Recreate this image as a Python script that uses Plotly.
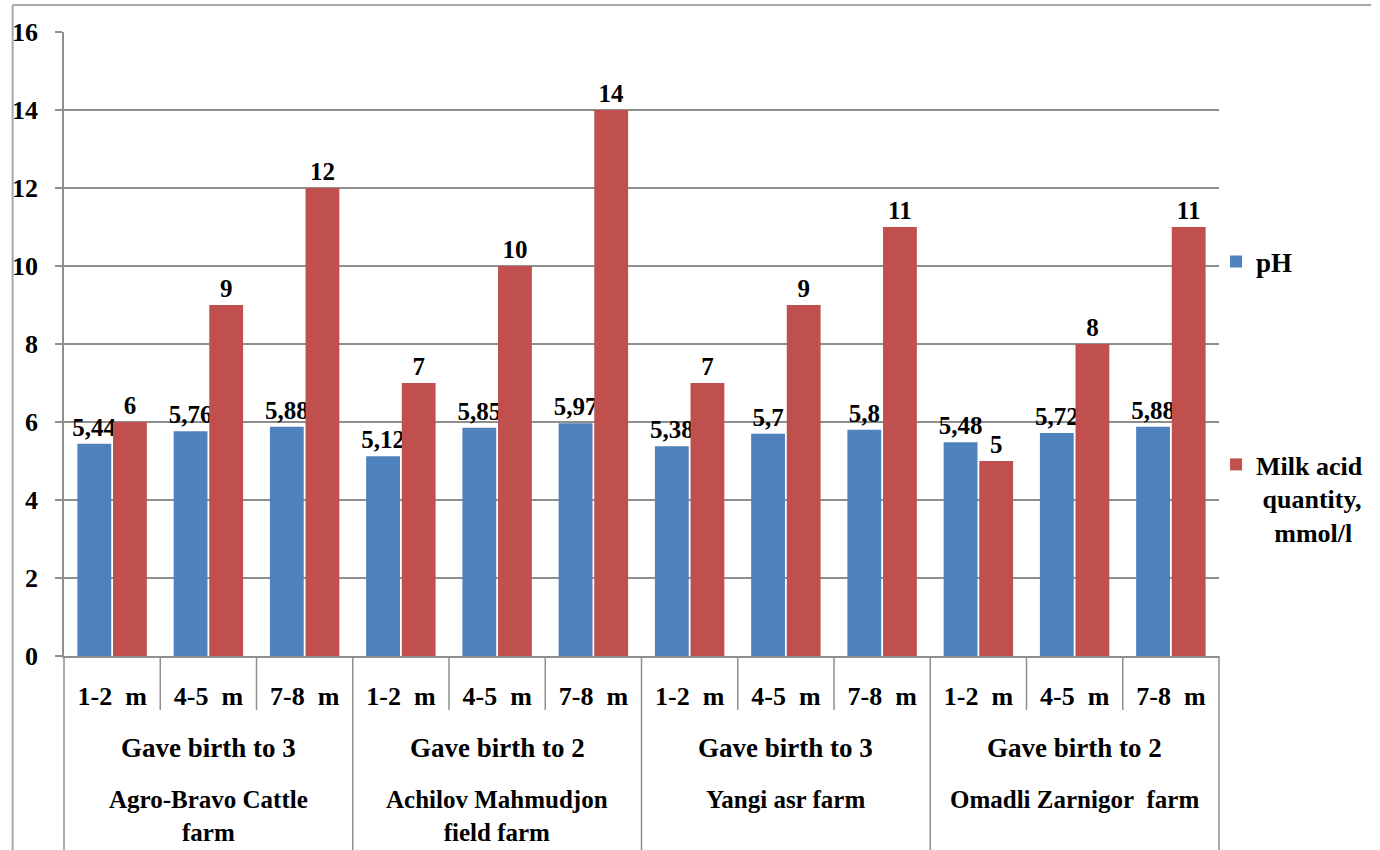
import plotly.graph_objects as go

# ---- data -------------------------------------------------------------
months = ["1-2\u00a0\u00a0m", "4-5\u00a0\u00a0m", "7-8\u00a0\u00a0m"] * 4
births = ["Gave birth to 3", "Gave birth to 2", "Gave birth to 3", "Gave birth to 2"]
farms = [
    "Agro-Bravo Cattle<br>farm",
    "Achilov Mahmudjon<br>field farm",
    "Yangi asr farm",
    "Omadli Zarnigor\u00a0 farm",
]
ph = [5.44, 5.76, 5.88, 5.12, 5.85, 5.97, 5.38, 5.7, 5.8, 5.48, 5.72, 5.88]
milk_acid = [6, 9, 12, 7, 10, 14, 7, 9, 11, 5, 8, 11]
y_ticks = [0, 2, 4, 6, 8, 10, 12, 14, 16]

# ---- styling ----------------------------------------------------------
W, H = 1380, 850
M_L, M_R, M_T, M_B = 62, 149, 32, 194
PW, PH = W - M_L - M_R, H - M_T - M_B
SERIF = "Liberation Serif"
GRID = "#8f8f8f"
FRAME = "#a8a8a8"
BLUE = "#4f81bd"
RED = "#c0504d"


def px(xp):
    """pixel x -> paper x"""
    return (xp - M_L) / PW


def py(yp):
    """pixel y -> paper y"""
    return (M_T + PH - yp) / PH


def fmt(v):
    return f"{v:g}".replace(".", ",")


def bold(size):
    return dict(family=SERIF, size=size, color="black", weight="bold")


x = list(range(len(ph)))
n = len(x)

fig = go.Figure()
fig.add_bar(
    x=x, y=ph, name="pH", marker_color=BLUE, marker_line_width=0,
    text=[fmt(v) for v in ph], textposition="outside", constraintext="none",
    cliponaxis=False, textfont=bold(25),
    legend="legend",
)
fig.add_bar(
    x=x, y=milk_acid, name="Milk acid<br>\u00a0quantity,<br>\u00a0\u00a0\u2009mmol/l",
    marker_color=RED, marker_line_width=0,
    text=[fmt(v) for v in milk_acid], textposition="outside", constraintext="none",
    cliponaxis=False, textfont=bold(25),
    legend="legend2",
)

shapes = []
# outer chart frame (left and top edges)
shapes.append(dict(type="line", xref="paper", yref="paper", x0=px(10), x1=px(10),
                   y0=py(5), y1=py(H + 5), line=dict(color=FRAME, width=2)))
shapes.append(dict(type="line", xref="paper", yref="paper", x0=px(10), x1=px(W + 5),
                   y0=py(5), y1=py(5), line=dict(color=FRAME, width=2)))
# category table dividers below the axis
shapes.append(dict(type="line", xref="x domain", yref="paper", x0=0, x1=0,
                   y0=0, y1=py(H + 5), line=dict(color=GRID, width=1.5)))
for k in range(n):
    frac = (k + 1) / n
    group_end = (k + 1) % 3 == 0
    shapes.append(dict(type="line", xref="x domain", yref="paper", x0=frac, x1=frac,
                       y0=0, y1=py(H + 5) if group_end else py(710),
                       line=dict(color=GRID, width=1.5)))

annotations = []
for g in range(len(births)):
    xc = 3 * g + 1
    annotations.append(dict(x=xc, xref="x", y=0, yref="paper", yanchor="middle",
                            yshift=-(748 - (M_T + PH)), text=births[g], showarrow=False,
                            font=bold(27)))
    annotations.append(dict(x=xc, xref="x", y=0, yref="paper", yanchor="top",
                            yshift=-(784 - (M_T + PH)), text=farms[g], showarrow=False,
                            align="center", font=bold(25)))

fig.update_layout(
    width=W, height=H,
    margin=dict(l=M_L, r=M_R, t=M_T, b=M_B, pad=0),
    paper_bgcolor="white", plot_bgcolor="white",
    font=dict(family=SERIF),
    barmode="group", bargap=0.26, bargroupgap=0.05,
    separators=",.",
    shapes=shapes, annotations=annotations,
    showlegend=True,
    legend=dict(x=px(1228), y=py(262), xanchor="left", yanchor="middle",
                font=bold(27), bgcolor="rgba(0,0,0,0)", itemwidth=30, valign="top"),
    legend2=dict(x=px(1228), y=py(441), xanchor="left", yanchor="top",
                 font=bold(26), bgcolor="rgba(0,0,0,0)", itemwidth=30, valign="top"),
)
fig.update_xaxes(
    range=[-0.5, n - 0.5], tickmode="array", tickvals=x, ticktext=months,
    showgrid=False, zeroline=False, showline=True, linecolor=GRID, linewidth=1.5,
    ticks="", ticklabelstandoff=16, tickfont=bold(26),
)
fig.update_yaxes(
    range=[0, 16], tickmode="array", tickvals=y_ticks,
    showgrid=True, gridcolor=GRID, gridwidth=1.5, zeroline=False,
    showline=True, linecolor=GRID, linewidth=1.5,
    ticks="outside", ticklen=7, tickcolor=GRID, tickwidth=1.5, ticklabelstandoff=12,
    tickfont=bold(26),
)

fig.write_html("out.html")
